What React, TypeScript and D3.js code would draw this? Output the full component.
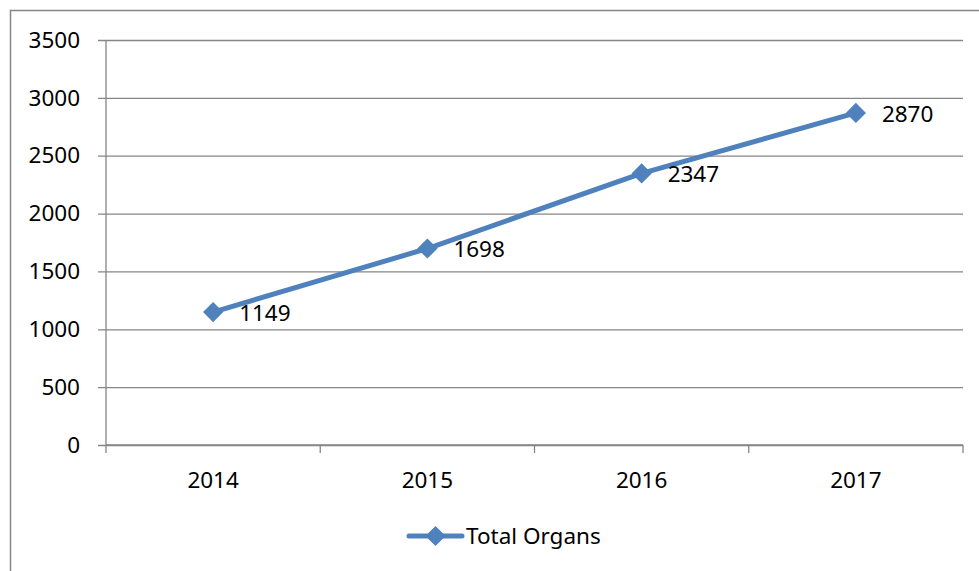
import { useEffect, useRef } from "react";
import * as d3 from "d3";

const years = ["2014", "2015", "2016", "2017"];
const totalOrgans = [1149, 1698, 2347, 2870];
const yTicks = [0, 500, 1000, 1500, 2000, 2500, 3000, 3500];
const seriesName = "Total Organs";

const W = 979;
const H = 571;
const margin = { left: 106, right: 16, top: 40, bottom: 126 };
const lineColor = "#4f81bd";
const gridColor = "#868686";
const font = "'Noto Sans', 'Open Sans', sans-serif";
const fontSize = 22.5;

const App = () => {
  const svgRef = useRef<SVGSVGElement>(null);

  useEffect(() => {
    const svgEl = d3.select(svgRef.current);
    svgEl.selectAll("*").remove();

    const plotW = W - margin.left - margin.right;
    const plotH = H - margin.top - margin.bottom;

    const x = d3.scaleBand<string>().domain(years).range([0, plotW]);
    const y = d3.scaleLinear().domain([0, 3500]).range([plotH, 0]);

    // outer border (right and bottom edges fall outside the picture)
    svgEl
      .append("rect")
      .attr("x", 10.5)
      .attr("y", 10.5)
      .attr("width", W + 20)
      .attr("height", H)
      .attr("fill", "none")
      .attr("stroke", gridColor)
      .attr("stroke-width", 1.5);

    const g = svgEl.append("g").attr("transform", `translate(${margin.left},${margin.top})`);

    // y grid + labels
    const yAxis = d3
      .axisLeft(y)
      .tickValues(yTicks)
      .tickSize(-plotW)
      .tickPadding(26)
      .tickFormat((d) => `${d}`);
    const yG = g.append("g").call(yAxis);
    yG.select(".domain").remove();
    yG.selectAll("line").attr("stroke", gridColor).attr("stroke-width", 1.3).attr("x1", -8);
    yG.selectAll("text").attr("font-family", font).attr("font-size", fontSize).attr("fill", "#000");

    // y axis line
    g.append("line")
      .attr("x1", 0)
      .attr("x2", 0)
      .attr("y1", 0)
      .attr("y2", plotH)
      .attr("stroke", gridColor)
      .attr("stroke-width", 1.3);

    // x axis with ticks at band edges
    const xG = g.append("g").attr("transform", `translate(0,${plotH})`);
    xG.append("line")
      .attr("x1", 0)
      .attr("x2", plotW)
      .attr("stroke", gridColor)
      .attr("stroke-width", 1.3);
    const edges = years.map((yr) => x(yr)!).concat([plotW]);
    xG.selectAll(".edge")
      .data(edges)
      .enter()
      .append("line")
      .attr("x1", (d) => d)
      .attr("x2", (d) => d)
      .attr("y1", 0)
      .attr("y2", 8)
      .attr("stroke", gridColor)
      .attr("stroke-width", 1.3);
    xG.selectAll(".lbl")
      .data(years)
      .enter()
      .append("text")
      .attr("x", (d) => x(d)! + x.bandwidth() / 2)
      .attr("y", 35)
      .attr("dy", "0.35em")
      .attr("text-anchor", "middle")
      .attr("font-family", font)
      .attr("font-size", fontSize)
      .text((d) => d);

    const pts = years.map((yr, i) => ({ yr, v: totalOrgans[i] }));
    const lineGen = d3
      .line<{ yr: string; v: number }>()
      .x((d) => x(d.yr)! + x.bandwidth() / 2)
      .y((d) => y(d.v));

    g.append("path")
      .attr("d", lineGen(pts))
      .attr("fill", "none")
      .attr("stroke", lineColor)
      .attr("stroke-width", 5)
      .attr("stroke-linejoin", "round");

    const diamond = d3.symbol().type(d3.symbolDiamond2).size(260);
    g.selectAll(".pt")
      .data(pts)
      .enter()
      .append("path")
      .attr("d", diamond)
      .attr("transform", (d) => `translate(${x(d.yr)! + x.bandwidth() / 2},${y(d.v)})`)
      .attr("fill", lineColor);

    g.selectAll(".val")
      .data(pts)
      .enter()
      .append("text")
      .attr("x", (d) => x(d.yr)! + x.bandwidth() / 2 + 26)
      .attr("y", (d) => y(d.v) + 1)
      .attr("dy", "0.35em")
      .attr("font-family", font)
      .attr("font-size", fontSize)
      .text((d) => d.v);

    // legend
    const lg = svgEl.append("g").attr("transform", `translate(409,536)`);
    lg.append("line")
      .attr("x1", 0)
      .attr("x2", 53)
      .attr("stroke", lineColor)
      .attr("stroke-width", 5)
      .attr("stroke-linecap", "round");
    lg.append("path")
      .attr("d", diamond)
      .attr("transform", "translate(26.5,0)")
      .attr("fill", lineColor);
    lg.append("text")
      .attr("x", 57)
      .attr("dy", "0.35em")
      .attr("font-family", font)
      .attr("font-size", fontSize)
      .text(seriesName);
  }, []);

  return (
    <svg
      ref={svgRef}
      width={W}
      height={H}
      style={{ display: "block", position: "absolute", left: 0, top: 0 }}
    />
  );
};

export default App;
